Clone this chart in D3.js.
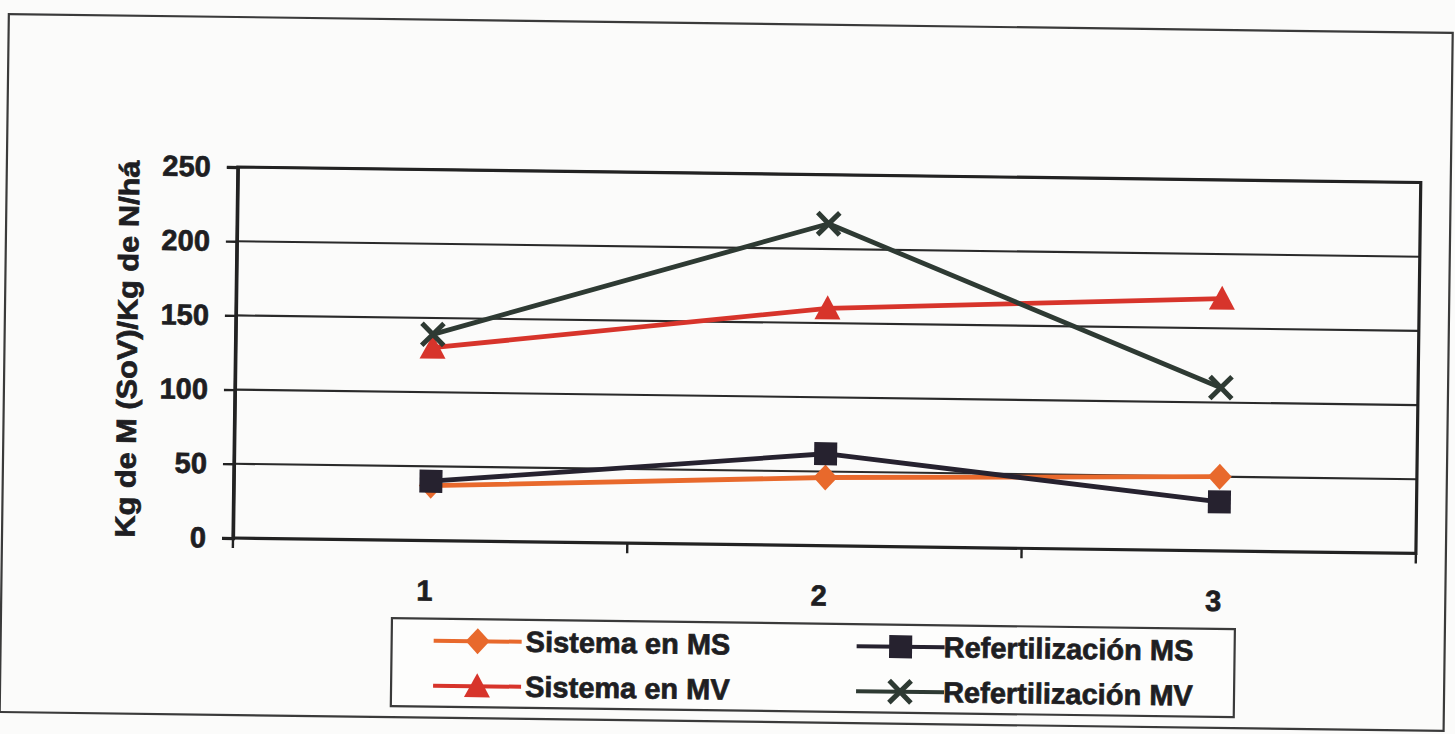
<!DOCTYPE html>
<html>
<head>
<meta charset="utf-8">
<script src="https://cdn.jsdelivr.net/npm/d3@7"></script>
<style>
  html, body { margin: 0; padding: 0; background: #fbfbfa; }
  svg { display: block; }
  text { font-family: "Liberation Sans", Arial, sans-serif; font-weight: bold; fill: #1e1e22;
         stroke: #1e1e22; stroke-width: 0.7px; paint-order: stroke; }
</style>
</head>
<body>
<svg id="chart" width="1455" height="734"></svg>
<script>
// Category labels and series values
const categories = ["1", "2", "3"];
const sistemaMS = [37, 46, 50];
const sistemaMV = [130, 160, 170];
const refertMS = [40, 62, 33];
const refertMV = [139, 217, 110];
const yTicks = [0, 50, 100, 150, 200, 250];
const seriesNames = ["Sistema en MS", "Sistema en MV", "Refertilización MS", "Refertilización MV"];
const seriesColors = ["#e8692c", "#d7342b", "#26222f", "#2e3a33"];
const seriesMarkers = ["diamond", "triangle", "square", "cross"];
const yTitle = "Kg de M (SoV)/Kg de N/há";

const series = [sistemaMS, sistemaMV, refertMS, refertMV].map((vals, i) => ({
  name: seriesNames[i], color: seriesColors[i], marker: seriesMarkers[i],
  values: vals.map((v, j) => ({ cat: categories[j], v }))
}));

const svg = d3.select("#chart");
const plot = { left: 233, right: 1416, top: 167, bottom: 538 };

// the printed page sits slightly tilted
const root = svg.append("g").attr("transform", `rotate(0.75, ${plot.left}, ${plot.bottom})`);

// outer frame
root.append("rect")
  .attr("x", 2).attr("y", 17).attr("width", 1444).attr("height", 698)
  .attr("fill", "none").attr("stroke", "#3a3a3a").attr("stroke-width", 2.2);

const x = d3.scaleBand().domain(categories).range([plot.left, plot.right]).padding(0);
const y = d3.scaleLinear().domain([0, 250]).range([plot.bottom, plot.top]);

// horizontal gridlines
root.append("g").selectAll("line").data(yTicks.filter(t => t > 0)).join("line")
  .attr("x1", plot.left).attr("x2", plot.right)
  .attr("y1", d => y(d)).attr("y2", d => y(d))
  .attr("stroke", "#2a2a2a").attr("stroke-width", 2.1);

// plot border
root.append("rect")
  .attr("x", plot.left).attr("y", plot.top)
  .attr("width", plot.right - plot.left).attr("height", plot.bottom - plot.top)
  .attr("fill", "none").attr("stroke", "#222").attr("stroke-width", 3.2);

// y axis
const yAxis = root.append("g").attr("transform", `translate(${plot.left},0)`)
  .call(d3.axisLeft(y).tickValues(yTicks).tickSize(11).tickPadding(16).tickFormat(d3.format("d")));
yAxis.select(".domain").attr("stroke", "#222").attr("stroke-width", 3.2);
yAxis.selectAll(".tick line").attr("stroke", "#222").attr("stroke-width", 2.4);
yAxis.selectAll(".tick text")
  .attr("font-size", 29).attr("font-family", "Liberation Sans, Arial, sans-serif")
  .attr("font-weight", "bold").attr("fill", "#1e1e22");

// x axis: ticks between categories, labels centred in each band
const xAxis = root.append("g").attr("transform", `translate(0,${plot.bottom})`);
const bounds = categories.map(c => x(c)).concat([plot.right]);
xAxis.selectAll("line").data(bounds).join("line")
  .attr("x1", d => d).attr("x2", d => d).attr("y1", 0).attr("y2", 10)
  .attr("stroke", "#222").attr("stroke-width", 2.4);
xAxis.selectAll("text").data(categories).join("text")
  .attr("x", d => x(d) + x.bandwidth() / 2 - 5).attr("y", 50)
  .attr("text-anchor", "middle").attr("dominant-baseline", "central")
  .attr("font-size", 29).text(d => d);

// y axis title
root.append("text")
  .attr("transform", `translate(125, ${(plot.top + plot.bottom) / 2 - 2}) rotate(-90)`)
  .attr("text-anchor", "middle").attr("dominant-baseline", "central")
  .attr("font-size", 28).attr("textLength", 377).attr("lengthAdjust", "spacingAndGlyphs")
  .text(yTitle);

// marker shapes
function drawMarker(g, type, color) {
  if (type === "diamond") {
    g.append("path").attr("d", "M0,-13 L12,0 L0,13 L-12,0 Z").attr("fill", color);
  } else if (type === "triangle") {
    g.append("path").attr("d", "M0,-13 L13,11 L-13,11 Z").attr("fill", color);
  } else if (type === "square") {
    g.append("rect").attr("x", -11.5).attr("y", -11.5).attr("width", 23).attr("height", 23).attr("fill", color);
  } else if (type === "cross") {
    g.append("path").attr("d", "M-11,-11 L11,11 M-11,11 L11,-11")
      .attr("stroke", color).attr("stroke-width", 5).attr("fill", "none");
  }
}

const line = d3.line().x(d => x(d.cat) + x.bandwidth() / 2).y(d => y(d.v));

series.forEach(s => {
  const g = root.append("g");
  g.append("path").datum(s.values).attr("d", line)
    .attr("fill", "none").attr("stroke", s.color).attr("stroke-width", 4.8)
    .attr("stroke-linejoin", "round");
  s.values.forEach(d => {
    const m = g.append("g").attr("transform", `translate(${x(d.cat) + x.bandwidth() / 2},${y(d.v)})`);
    drawMarker(m, s.marker, s.color);
  });
});

// legend
const legend = root.append("g");
legend.append("rect")
  .attr("x", 393).attr("y", 616).attr("width", 843).attr("height", 88)
  .attr("fill", "#fdfdfc").attr("stroke", "#3a3a3a").attr("stroke-width", 2.2);

const legendCols = [{ lx: 435, tx: 527 }, { lx: 858, tx: 945 }];
const legendRows = [638, 683];
series.forEach((s, i) => {
  const col = legendCols[Math.floor(i / 2)];
  const ry = legendRows[i % 2];
  const g = legend.append("g");
  g.append("line").attr("x1", col.lx).attr("x2", col.lx + 88)
    .attr("y1", ry).attr("y2", ry).attr("stroke", s.color).attr("stroke-width", 4);
  const m = g.append("g").attr("transform", `translate(${col.lx + 44},${ry})`);
  drawMarker(m, s.marker, s.color);
  g.append("text").attr("x", col.tx).attr("y", ry)
    .attr("dominant-baseline", "central").attr("font-size", 29).text(s.name);
});
</script>
</body>
</html>
